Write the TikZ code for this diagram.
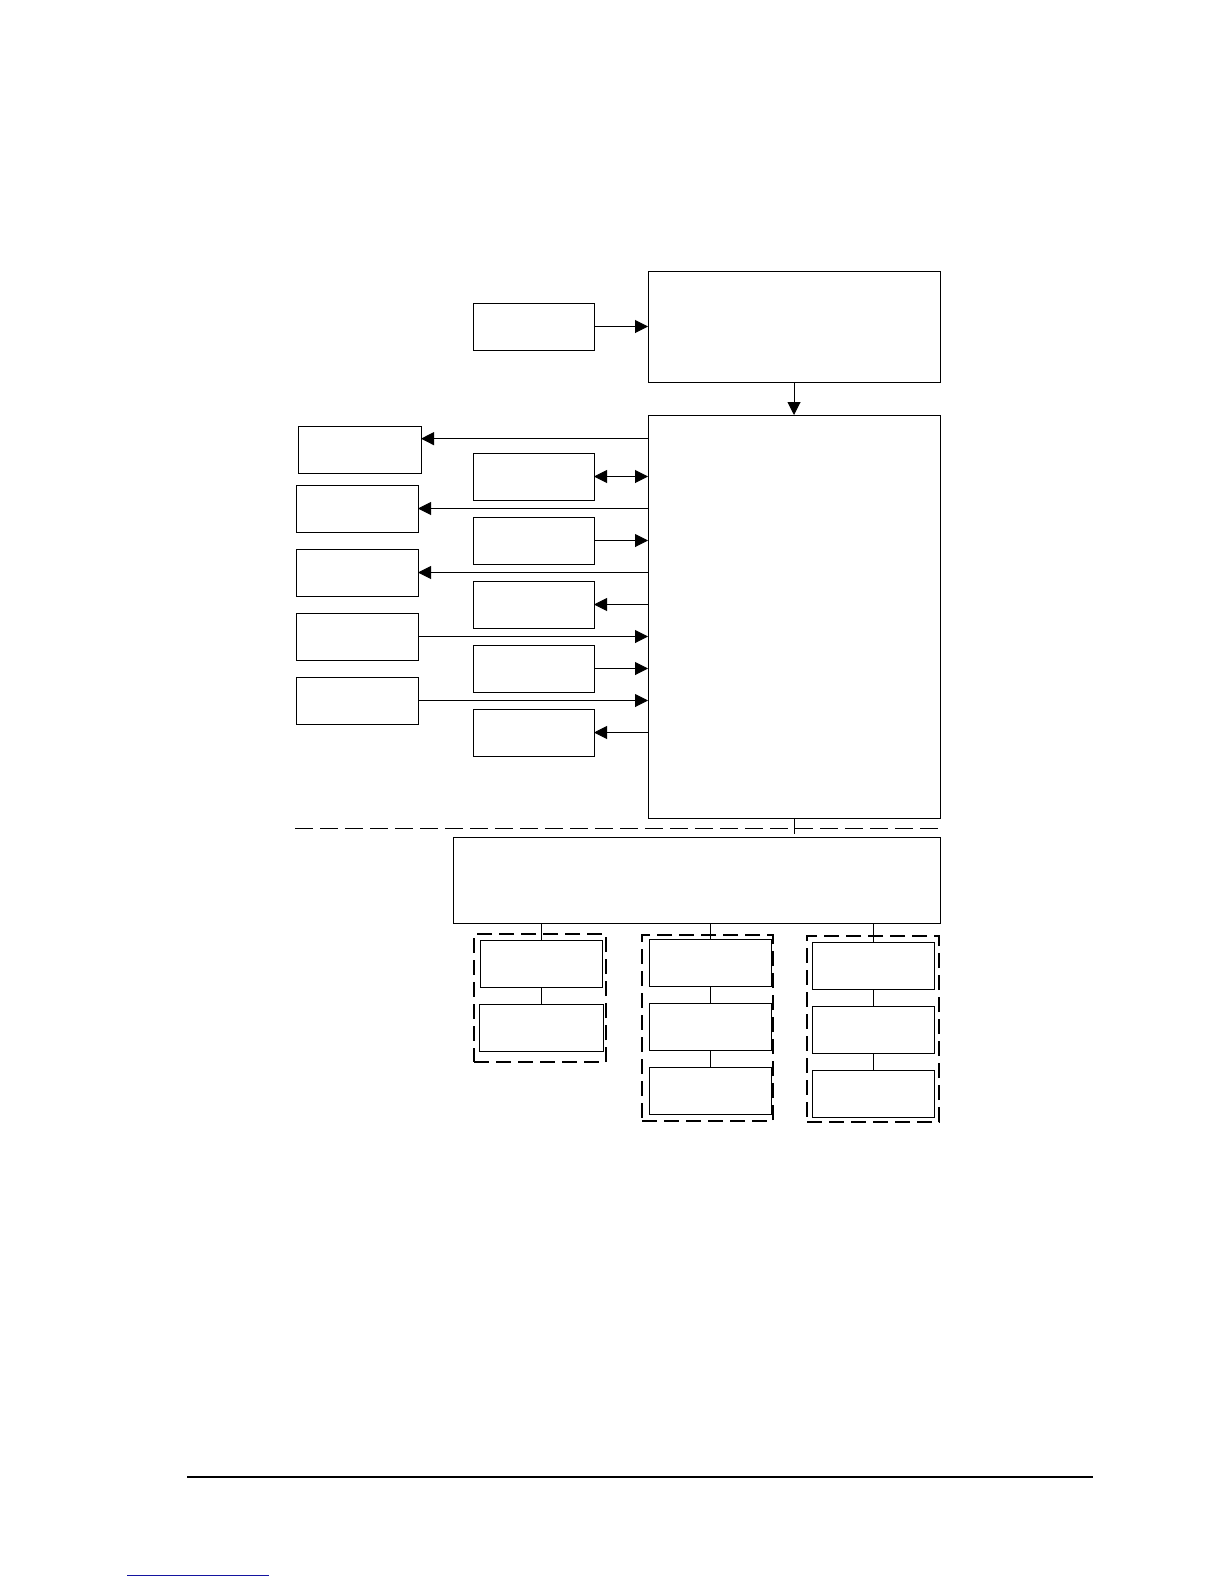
\documentclass[tikz,border=0pt]{standalone}
\usetikzlibrary{positioning,arrows.meta,calc}
\definecolor{linkblue}{RGB}{20,20,160}
\tikzset{
  blk/.style={draw=black, line width=1pt, inner sep=0pt, outer sep=0pt,
    minimum width=121pt, minimum height=47pt},
  grp/.style={draw=black, line width=2.4pt, dash pattern=on 15pt off 7pt,
    inner sep=0pt, outer sep=0pt},
  arr/.style={line width=1pt, -{Triangle[length=13pt,width=13pt]}},
  dbl/.style={line width=1pt, {Triangle[length=13pt,width=13pt]}-{Triangle[length=13pt,width=13pt]}},
  link/.style={line width=0.9pt},
  sepline/.style={line width=1pt, dash pattern=on 18pt off 7pt}
}
\begin{document}
\begin{tikzpicture}[x=1pt, y=-1pt, node distance=17pt]
  \useasboundingbox (0,0) rectangle (1224,1584);

  % upper part
  \node[blk] (src) at (533.5,326.5) {};
  \node[blk, minimum width=292pt, minimum height=111pt] (hdr) at (794,326.5) {};
  \node[blk, minimum width=292pt, minimum height=403pt] (core) at (794,616.5) {};

  % left column
  \node[blk, minimum width=123pt] (outA) at (359.5,449.5) {};
  \node[blk, minimum width=122pt] (outB) at (357,508.5) {};
  \node[blk, minimum width=122pt, below=of outB] (outC) {};
  \node[blk, minimum width=122pt, below=of outC] (outD) {};
  \node[blk, minimum width=122pt, below=of outD] (outE) {};

  % middle column
  \node[blk] (ioA) at (533.5,476.5) {};
  \node[blk, below=of ioA] (ioB) {};
  \node[blk, below=of ioB] (ioC) {};
  \node[blk, below=of ioC] (ioD) {};
  \node[blk, below=of ioD] (ioE) {};

  \draw[arr]  (src.east) -- (hdr.west);
  \draw[arr]  (hdr.south) -- (core.north);
  \draw[arr]  (core.west |- outA.10.6) -- (outA.10.6);
  \draw[dbl]  (ioA.east) -- (core.west |- ioA.east);
  \draw[arr]  (core.west |- outB.east) -- (outB.east);
  \draw[arr]  (ioB.east) -- (core.west |- ioB.east);
  \draw[arr]  (core.west |- outC.east) -- (outC.east);
  \draw[arr]  (core.west |- ioC.east) -- (ioC.east);
  \draw[arr]  (outD.east) -- (core.west |- outD.east);
  \draw[arr]  (ioD.east) -- (core.west |- ioD.east);
  \draw[arr]  (outE.east) -- (core.west |- outE.east);
  \draw[arr]  (core.west |- ioE.east) -- (ioE.east);

  % separator
  \coordinate (sepL) at (295,828);
  \coordinate (sepR) at (943,828);
  \draw[sepline] (sepL) -- (sepR);
  \draw[link] (core.south) -- ++(0,16);

  % lower part
  \node[blk, minimum width=487pt, minimum height=86pt] (bus) at (696.5,880) {};

  \node[grp, minimum width=132pt, minimum height=128pt] (grpA) at (540,998) {};
  \node[grp, minimum width=131pt, minimum height=186pt] (grpB) at (707.5,1028) {};
  \node[grp, minimum width=132pt, minimum height=186pt] (grpC) at (873,1029) {};

  \node[blk, minimum width=122pt] (uA1) at (541,963.5) {};
  \node[blk, minimum width=124pt, below=of uA1] (uA2) {};
  \node[blk, minimum width=122pt] (uB1) at (710,962.5) {};
  \node[blk, minimum width=122pt, below=of uB1] (uB2) {};
  \node[blk, minimum width=122pt, below=of uB2] (uB3) {};
  \node[blk, minimum width=122pt] (uC1) at (873,965.5) {};
  \node[blk, minimum width=122pt, below=of uC1] (uC2) {};
  \node[blk, minimum width=122pt, below=of uC2] (uC3) {};

  \draw[link] (bus.south -| uA1.north) -- (uA1.north);
  \draw[link] (uA1) -- (uA2);
  \draw[link] (bus.south -| uB1.north) -- (uB1.north);
  \draw[link] (uB1) -- (uB2);
  \draw[link] (uB2) -- (uB3);
  \draw[link] (bus.south -| uC1.north) -- (uC1.north);
  \draw[link] (uC1) -- (uC2);
  \draw[link] (uC2) -- (uC3);

  % page footer
  \coordinate (ftL) at (187,1477);
  \coordinate (ftR) at (1093,1477);
  \draw[line width=1.3pt] (ftL) -- (ftR);
  \coordinate (lnL) at (127,1575);
  \coordinate (lnR) at (269,1575);
  \draw[linkblue, line width=1pt] (lnL) -- (lnR);
\end{tikzpicture}
\end{document}
